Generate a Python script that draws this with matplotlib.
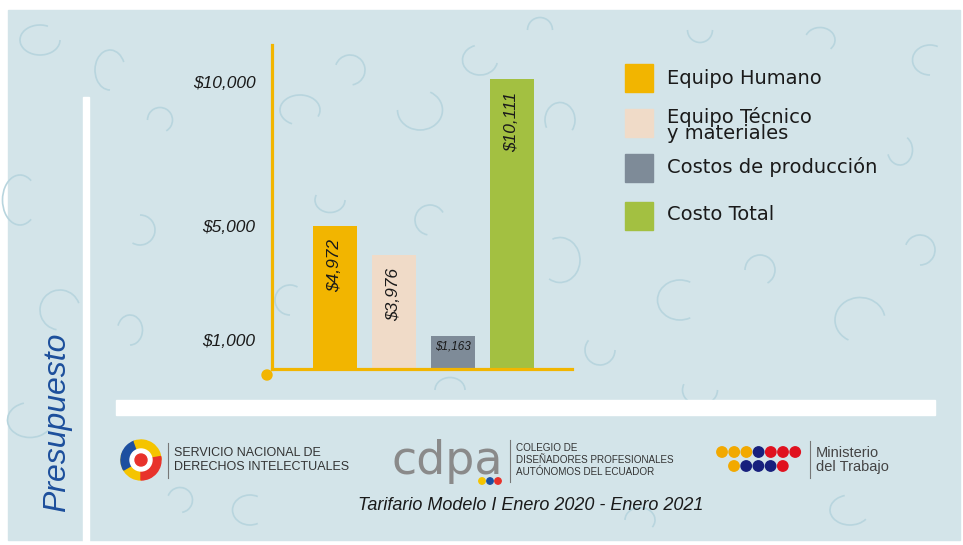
import matplotlib
matplotlib.use('Agg')
import matplotlib.pyplot as plt
from matplotlib.patches import Rectangle, Circle, Wedge, Arc

# ---- data ----
categories = ['Equipo Humano', 'Equipo Técnico\ny materiales', 'Costos de producción', 'Costo Total']
values = [4972, 3976, 1163, 10111]
value_labels = ['$4,972', '$3,976', '$1,163', '$10,111']
colors = ['#f2b500', '#f0dbc8', '#7e8b98', '#a3c041']
yticks = [1000, 5000, 10000]
ytick_labels = ['$1,000', '$5,000', '$10,000']

W, H = 963, 545
fig = plt.figure(figsize=(W / 100, H / 100), dpi=100)
fig.patch.set_facecolor('white')

# background / decoration axes in pixel coordinates
bg = fig.add_axes([0, 0, 1, 1], zorder=0)
bg.set_xlim(0, W)
bg.set_ylim(H, 0)
bg.axis('off')
bg.add_patch(Rectangle((8, 10), 952, 530, color='#d3e4e9', zorder=0))

arc_col = '#b8d5de'
arcs = [(40, 40, 40, 30, 0, 300), (110, 70, 30, 40, 90, 330), (160, 120, 25, 25, 180, 60),
        (20, 200, 35, 50, 60, 300), (140, 230, 30, 30, 270, 120), (60, 310, 40, 40, 100, 340),
        (30, 420, 45, 35, 30, 250), (130, 330, 25, 30, 200, 90), (300, 110, 40, 30, 120, 20),
        (350, 70, 30, 30, 200, 80), (420, 110, 45, 40, 300, 180), (480, 60, 35, 30, 10, 250),
        (560, 120, 30, 35, 150, 40), (540, 30, 25, 25, 180, 360), (330, 200, 30, 25, 0, 200),
        (430, 220, 30, 30, 100, 330), (560, 260, 40, 45, 250, 120), (600, 350, 30, 30, 0, 220),
        (680, 300, 45, 40, 60, 300), (760, 270, 30, 30, 180, 60), (860, 320, 50, 45, 120, 350),
        (920, 250, 30, 30, 200, 90), (900, 150, 25, 30, 300, 160), (930, 60, 35, 30, 90, 300),
        (820, 40, 30, 25, 200, 40), (700, 30, 25, 25, 0, 180), (850, 510, 40, 30, 30, 250),
        (640, 520, 30, 25, 180, 30), (250, 510, 35, 30, 60, 300), (180, 500, 25, 25, 200, 80),
        (450, 390, 30, 25, 180, 360), (700, 390, 35, 30, 0, 200), (290, 300, 30, 30, 90, 300)]
for (x, y, w, h, t1, t2) in arcs:
    bg.add_patch(Arc((x, y), w, h, theta1=t1, theta2=t2, color=arc_col, lw=1.2, zorder=1))

# white bars
bg.add_patch(Rectangle((83, 97), 6, 450, color='white', zorder=2))
bg.add_patch(Rectangle((116, 400), 819, 15, color='white', zorder=2))

bg.text(57, 422, 'Presupuesto', rotation=90, ha='center', va='center', fontsize=23,
        style='italic', color='#1c4f9c', family='Liberation Sans', zorder=3)

# axis corner dot
bg.add_patch(Circle((267, 375), 5, color='#f2b500', zorder=3))

# ---- main chart ----
ax = fig.add_axes([272 / W, (H - 369) / H, 300 / W, 324 / H], zorder=2)
ax.patch.set_alpha(0)
x = list(range(len(values)))
ax.bar(x, values, width=0.76, color=colors, zorder=2)
ax.set_xlim(-1.068, 4.017)
ax.set_ylim(0, 11290)
for s in ['top', 'right']:
    ax.spines[s].set_visible(False)
for s in ['left', 'bottom']:
    ax.spines[s].set_color('#f2b500')
    ax.spines[s].set_linewidth(2.3)
ax.set_xticks([])
ax.set_yticks(yticks, ytick_labels)
for lab in ax.get_yticklabels():
    lab.set_fontstyle('italic')
    lab.set_fontsize(12.5)
    lab.set_family('Liberation Sans')
    lab.set_color('#1a1a1a')
ax.tick_params(axis='y', length=0, pad=12)

for i, (v, lab) in enumerate(zip(values, value_labels)):
    if v < 2000:
        ax.annotate(lab, (i, v), xytext=(0, -11), textcoords='offset pixels', ha='center',
                    va='center', fontsize=8.5, style='italic', family='Liberation Sans',
                    color='#1a1a1a', zorder=3)
    else:
        ax.annotate(lab, (i, v), xytext=(0, -13), textcoords='offset pixels', ha='center',
                    va='top', rotation=90, fontsize=12.5, style='italic', family='Liberation Sans',
                    color='#1a1a1a', zorder=3)

# ---- legend ----
leg_tops = [64, 109, 154, 202]
leg_text_y = [78, 125, 167, 215]
for cat, col, top, ty in zip(categories, colors, leg_tops, leg_text_y):
    bg.add_patch(Rectangle((625, top), 28, 28, color=col, zorder=3))
    bg.text(667, ty, cat, ha='left', va='center', fontsize=14, color='#1a1a1a',
            family='DejaVu Sans', linespacing=0.8, zorder=3)

# ---- footer logos ----
# SENADI
cx, cy = 141, 460
bg.add_patch(Wedge((cx, cy), 20, 90, 200, color='#f5c400', zorder=3))
bg.add_patch(Wedge((cx, cy), 20, 150, 250, color='#1d4fa0', zorder=3))
bg.add_patch(Wedge((cx, cy), 20, 250, 360, color='#f5c400', zorder=3))
bg.add_patch(Wedge((cx, cy), 20, -10, 90, color='#e8322b', zorder=3))
bg.add_patch(Circle((cx, cy), 11, color='white', zorder=4))
bg.add_patch(Circle((cx, cy), 6, color='#e8322b', zorder=5))
bg.plot([168, 168], [443, 478], color='#777777', lw=0.8, zorder=3)
bg.text(174, 460, 'SERVICIO NACIONAL DE\nDERECHOS INTELECTUALES', ha='left', va='center',
        fontsize=9, color='#333333', family='Liberation Sans', linespacing=1.15, zorder=3)

# CDPA
bg.text(447, 461, 'cdpa', ha='center', va='center', fontsize=33, color='#8a8a8a',
        family='DejaVu Sans', zorder=3)
for dx, c in zip([482, 490, 498], ['#f5c400', '#1d4fa0', '#e8322b']):
    bg.add_patch(Circle((dx, 481), 3.2, color=c, zorder=3))
bg.plot([510, 510], [440, 482], color='#777777', lw=0.8, zorder=3)
bg.text(516, 460, 'COLEGIO DE\nDISEÑADORES PROFESIONALES\nAUTÓNOMOS DEL ECUADOR', ha='left',
        va='center', fontsize=7.1, color='#333333', family='Liberation Sans',
        linespacing=1.2, zorder=3)

# Ministerio
row1 = ['#f2a900'] * 3 + ['#17207d'] + ['#e0111f'] * 3
row2 = ['#f2a900'] + ['#17207d'] * 3 + ['#e0111f']
for k, c in enumerate(row1):
    bg.add_patch(Circle((722 + 12.2 * k, 452), 5.2, color=c, zorder=3))
for k, c in enumerate(row2):
    bg.add_patch(Circle((734 + 12.2 * k, 466), 5.2, color=c, zorder=3))
bg.plot([810, 810], [441, 478], color='#777777', lw=0.8, zorder=3)
bg.text(816, 460, 'Ministerio\ndel Trabajo', ha='left', va='center', fontsize=10.5,
        color='#444444', family='Liberation Sans', linespacing=1.05, zorder=3)

bg.text(531, 505, 'Tarifario Modelo I Enero 2020 - Enero 2021', ha='center', va='center',
        fontsize=13, style='italic', color='#1a1a1a',
        family=['Liberation Sans Narrow', 'Liberation Sans'], zorder=3)

fig.savefig('out.png', dpi=100, facecolor=fig.get_facecolor())
